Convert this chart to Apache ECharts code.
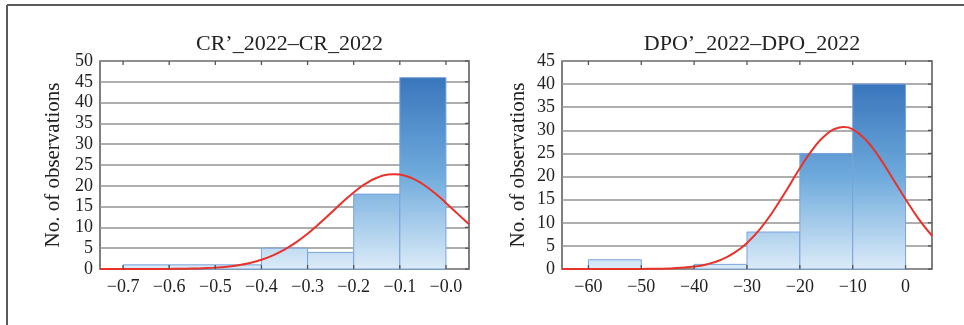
<!DOCTYPE html>
<html>
<head>
<meta charset="utf-8">
<script src="https://cdn.jsdelivr.net/npm/echarts@6/dist/echarts.min.js"></script>
<style>
  html, body { margin: 0; padding: 0; background: #fff; }
  #chart { width: 964px; height: 325px; }
</style>
</head>
<body>
<div id="chart"></div>
<script>
// Histogram of CR'_2022 - CR_2022 differences
const crTitle = 'CR\u2019_2022\u2013CR_2022';
const crBinEdges = [-0.7, -0.6, -0.5, -0.4, -0.3, -0.2, -0.1, 0.0];
const crCounts = [1, 1, 1, 5, 4, 18, 46];
const crTickValues = [-0.7, -0.6, -0.5, -0.4, -0.3, -0.2, -0.1, 0.0];
const crTickLabels = ['\u22120.7', '\u22120.6', '\u22120.5', '\u22120.4', '\u22120.3', '\u22120.2', '\u22120.1', '\u22120.0'];
const crYTickValues = [0, 5, 10, 15, 20, 25, 30, 35, 40, 45, 50];
// fitted normal curve, sampled along the axis (peak included)
const crCurveX = [-0.75, -0.725, -0.70, -0.675, -0.65, -0.625, -0.60, -0.575, -0.55, -0.525, -0.50, -0.475, -0.45, -0.425, -0.40, -0.375, -0.35,
                  -0.325, -0.30, -0.275, -0.25, -0.225, -0.20, -0.175, -0.15, -0.125, -0.113, -0.10, -0.075, -0.05, -0.025, 0.00, 0.025, 0.05];
const crCurveY = [0, 0, 0, 0, 0.01, 0.01, 0.03, 0.06, 0.1, 0.19, 0.33, 0.56, 0.92, 1.46, 2.22, 3.28, 4.65,
                  6.4, 8.49, 10.86, 13.42, 15.99, 18.4, 20.45, 21.93, 22.71, 22.8, 22.69, 21.89, 20.38, 18.32, 15.89, 13.31, 10.76];

// Histogram of DPO'_2022 - DPO_2022 differences
const dpoTitle = 'DPO\u2019_2022\u2013DPO_2022';
const dpoBinEdges = [-60, -50, -40, -30, -20, -10, 0];
const dpoCounts = [2, 0, 1, 8, 25, 40];
const dpoTickValues = [-60, -50, -40, -30, -20, -10, 0];
const dpoTickLabels = ['\u221260', '\u221250', '\u221240', '\u221230', '\u221220', '\u221210', '0'];
const dpoYTickValues = [0, 5, 10, 15, 20, 25, 30, 35, 40, 45];
const dpoCurveX = [-65, -62.5, -60, -57.5, -55, -52.5, -50, -47.5, -45, -42.5, -40, -37.5, -35, -32.5, -30, -27.5, -25, -22.5, -20, -17.5, -15, -12.5, -11.8, -10, -7.5, -5, -2.5, 0, 2.5, 5];
const dpoCurveY = [0, 0, 0, 0, 0, 0.01, 0.02, 0.05, 0.11, 0.25, 0.52, 1.04, 1.95, 3.42, 5.63, 8.69, 12.6, 17.1, 21.8, 26.0, 29.1, 30.6, 30.7, 30.2, 27.9, 24.2, 19.7, 15.1, 10.8, 7.2];

const yAxisName = 'No. of observations';

const FONT = '"Liberation Serif", "DejaVu Serif", serif';
const TEXT = '#222';
const LINE = '#555';

const panels = [
  { title: crTitle, edges: crBinEdges, counts: crCounts, ticks: crTickValues, labels: crTickLabels, yTicks: crYTickValues,
    cx: crCurveX, cy: crCurveY, xMin: -0.75, xMax: 0.05, yMax: 50,
    grid: { left: 100, top: 61, width: 369, height: 208 }, nameGap: 36 },
  { title: dpoTitle, edges: dpoBinEdges, counts: dpoCounts, ticks: dpoTickValues, labels: dpoTickLabels, yTicks: dpoYTickValues,
    cx: dpoCurveX, cy: dpoCurveY, xMin: -65, xMax: 5, yMax: 45,
    grid: { left: 562, top: 61, width: 370, height: 208 }, nameGap: 33 }
];

function labelFor(p) {
  return function (v) {
    const i = p.ticks.findIndex(t => Math.abs(t - v) < 1e-9);
    return i >= 0 ? p.labels[i] : '';
  };
}

const option = {
  animation: false,
  backgroundColor: '#fff',
  title: [],
  grid: [],
  xAxis: [],
  yAxis: [],
  series: [],
  graphic: [
    { type: 'line', shape: { x1: 7, y1: 5, x2: 964, y2: 5 }, style: { stroke: '#5a5a5a', lineWidth: 2 } },
    { type: 'line', shape: { x1: 7, y1: 5, x2: 7, y2: 325 }, style: { stroke: '#5a5a5a', lineWidth: 2 } }
  ]
};

panels.forEach((p, gi) => {
  option.title.push({
    text: p.title,
    left: p.grid.left + p.grid.width / 2,
    textAlign: 'center',
    top: 28,
    textStyle: { fontFamily: FONT, fontSize: 22, fontWeight: 'normal', color: TEXT }
  });
  option.grid.push(Object.assign({ show: true, borderColor: LINE, borderWidth: 1.5, backgroundColor: 'transparent' }, p.grid));

  option.xAxis.push({
    type: 'value', gridIndex: gi, min: p.xMin, max: p.xMax,
    splitLine: { show: false },
    axisLine: { show: false },
    axisTick: { show: false },
    axisLabel: { show: true, customValues: p.ticks, formatter: labelFor(p), margin: 9,
      fontFamily: FONT, fontSize: 18, color: TEXT }
  });

  option.yAxis.push({
    type: 'value', gridIndex: gi, min: 0, max: p.yMax, interval: 5,
    axisLine: { show: false },
    name: yAxisName, nameLocation: 'middle', nameGap: p.nameGap,
    nameTextStyle: { fontFamily: FONT, fontSize: 21, color: TEXT },
    splitLine: { show: true, lineStyle: { color: '#939393', width: 1.6 } },
    axisTick: { show: false },
    axisLabel: { margin: 7, fontFamily: FONT, fontSize: 18, color: TEXT }
  });

  const maxCount = Math.max.apply(null, p.counts);
  const bins = p.counts.map((c, i) => [p.edges[i], p.edges[i + 1], c]);

  // histogram bars spanning the bin edges, shaded on a shared vertical gradient
  option.series.push({
    type: 'custom',
    xAxisIndex: gi,
    yAxisIndex: gi,
    data: bins,
    z: 2,
    renderItem: function (params, api) {
      const x0 = api.value(0), x1 = api.value(1), c = api.value(2);
      if (!c) return null;
      const pBase = api.coord([x0, 0]);
      const pTop = api.coord([x1, c]);
      const yFull = api.coord([x0, maxCount])[1];
      return {
        type: 'rect',
        shape: { x: pBase[0], y: pTop[1], width: pTop[0] - pBase[0], height: pBase[1] - pTop[1] },
        style: {
          fill: new echarts.graphic.LinearGradient(0, yFull, 0, pBase[1], [
            { offset: 0, color: '#3a76bc' },
            { offset: 0.5, color: '#6eaadc' },
            { offset: 1, color: '#dbebf8' }
          ], true),
          stroke: '#7aa3dc',
          lineWidth: 1
        }
      };
    }
  });

  // fitted normal curve
  option.series.push({
    type: 'line',
    xAxisIndex: gi,
    yAxisIndex: gi,
    data: p.cx.map((x, i) => [x, p.cy[i]]),
    smooth: true,
    showSymbol: false,
    symbol: 'none',
    clip: true,
    z: 5,
    lineStyle: { color: '#e8322a', width: 2 }
  });

  // short inward tick marks on the top, bottom and right edges of the frame
  const tickItems = p.ticks.map(v => ['x', v]).concat(p.yTicks.map(v => ['y', v]));
  option.series.push({
    type: 'custom',
    xAxisIndex: gi,
    yAxisIndex: gi,
    data: tickItems,
    z: 6,
    silent: true,
    renderItem: function (params, api) {
      const item = tickItems[params.dataIndex];
      const v = item[1];
      const lineStyle = { stroke: LINE, lineWidth: 1.3 };
      if (item[0] === 'x') {
        const top = api.coord([v, p.yMax]);
        const bot = api.coord([v, 0]);
        return {
          type: 'group',
          children: [
            { type: 'line', shape: { x1: top[0], y1: top[1], x2: top[0], y2: top[1] + 4 }, style: lineStyle },
            { type: 'line', shape: { x1: bot[0], y1: bot[1], x2: bot[0], y2: bot[1] - 4 }, style: lineStyle }
          ]
        };
      }
      const r = api.coord([p.xMax, v]);
      return { type: 'line', shape: { x1: r[0], y1: r[1], x2: r[0] - 4, y2: r[1] }, style: lineStyle };
    }
  });
});

const chart = echarts.init(document.getElementById('chart'), null, { renderer: 'canvas' });
chart.setOption(option);
</script>
</body>
</html>
